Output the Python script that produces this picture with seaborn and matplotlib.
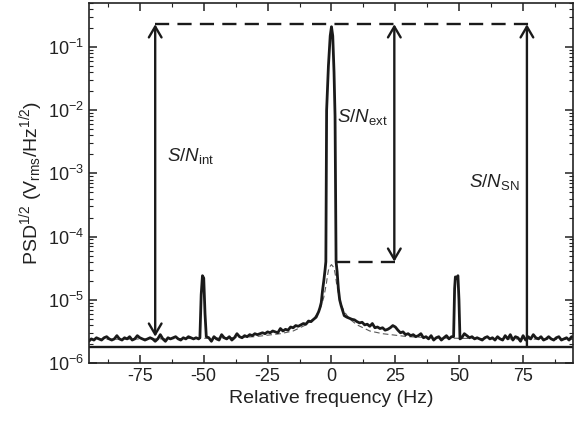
import numpy as np
import pandas as pd
import seaborn as sns
import matplotlib.pyplot as plt
from matplotlib.ticker import MultipleLocator, LogLocator, NullFormatter

# noise floor, left part (-95 .. -52 Hz, 1 Hz steps), units of 1e-6
noise_left = [2.2, 2.4, 2.3, 2.5, 2.4, 2.3, 2.5, 2.6, 2.4, 2.3, 2.4, 2.7, 2.4, 2.3,
              2.5, 2.4, 2.6, 2.3, 2.4, 2.7, 2.5, 2.4, 2.3, 2.4, 2.5, 2.4, 2.2, 2.4,
              2.8, 2.4, 2.2, 2.5, 2.4, 2.5, 2.6, 2.4, 2.3, 2.5, 2.4, 2.6, 2.5, 2.4,
              2.5, 2.4]
peak_m50_freq = [-51.5, -51.0, -50.5, -50.0, -49.5, -49.0]
peak_m50_val = [2.5, 12.0, 24.0, 22.0, 6.0, 2.6]
# -48 .. -6 Hz
noise_mid_left = [2.5, 2.2, 2.6, 2.4, 2.3, 2.8, 2.5, 2.4, 2.6, 2.3, 2.5, 2.9, 2.6, 2.5,
                  2.7, 2.6, 2.8, 2.7, 2.9, 2.8, 2.9, 3.0, 2.9, 3.1, 3.0, 3.2, 3.1, 3.0,
                  3.5, 3.2, 3.4, 3.3, 3.7, 3.6, 3.9, 3.8, 4.0, 4.2, 4.1, 4.6, 4.5, 4.9,
                  5.3]
carrier_freq = [-5.0, -4.5, -4.0, -3.5, -3.0, -2.5, -2.2, -1.9, -1.2, -0.5, 0.0,
                0.5, 1.0, 1.4, 1.8, 2.2, 2.7, 3.2, 3.8, 4.5, 5.0]
carrier_val = [6.5, 7.5, 9.0, 14.0, 20.0, 30.0, 40.0, 1.0e4, 5.0e4, 1.5e5, 2.1e5,
               1.5e5, 4.0e4, 8.0e3, 40.0, 28.0, 15.0, 10.0, 8.0, 6.5, 5.6]
# 6 .. 47 Hz
noise_mid_right = [5.3, 5.1, 4.9, 4.8, 4.5, 4.3, 4.4, 4.0, 4.1, 3.8, 4.2, 3.6, 3.7, 3.5,
                   3.6, 3.3, 3.4, 3.6, 3.9, 3.7, 3.3, 3.0, 3.1, 2.8, 2.9, 2.7, 2.8, 2.6,
                   2.7, 2.9, 2.5, 2.6, 2.4, 2.7, 2.3, 2.5, 2.6, 2.3, 2.5, 2.7, 2.4, 2.6]
peak_p50_freq = [47.8, 48.2, 48.5, 49.0, 49.5, 49.9, 50.3]
peak_p50_val = [2.6, 15.0, 23.0, 22.0, 24.0, 10.0, 2.4]
# 51 .. 95 Hz
noise_right = [2.5, 2.9, 2.7, 2.5, 2.6, 2.4, 2.5, 2.4, 2.3, 2.5, 2.6, 2.4, 2.5, 2.3,
               2.6, 2.4, 2.3, 2.7, 2.4, 2.8, 2.3, 2.6, 2.5, 2.2, 2.7, 2.3, 2.6, 2.4,
               2.8, 2.5, 2.4, 2.6, 2.3, 2.4, 2.6, 2.4, 2.3, 2.5, 2.6, 2.3, 2.4, 2.5,
               2.3, 2.6, 2.5]

# Lorentzian + floor fit (thin dashed), units of 1e-6
fit_freq = [-95, -70, -50, -40, -30, -20, -15, -10, -7, -5, -4, -3, -2, -1.5, -1, 0,
            1, 1.5, 2, 3, 4, 5, 7, 10, 15, 20, 30, 40, 50, 70, 95]
fit_val = [2.35, 2.4, 2.45, 2.5, 2.6, 2.9, 3.2, 4.0, 5.0, 6.5, 8.0, 11.0, 18.0, 25.0,
           32.0, 36.0, 32.0, 25.0, 18.0, 11.0, 8.0, 6.5, 5.0, 4.0, 3.2, 2.9, 2.6,
           2.5, 2.45, 2.4, 2.35]

shot_noise = 1.8e-6
signal_level = 0.23
ext_level = 4.0e-5
top_dash = [-69, 78]
ext_dash = [1.8, 25]
arrow_x = [-69, 24.6, 76.5]
arrow_bottom = [2.6e-6, 4.0e-5, 1.8e-6]
labels = [r"$S/N_{\rm int}$", r"$S/N_{\rm ext}$", r"$S/N_{\rm SN}$"]
label_pos = [(-64.5, 1.9e-3), (2.3, 7.8e-3), (54, 7.4e-4)]

freq = np.concatenate([
    -95 + np.arange(len(noise_left)), peak_m50_freq,
    -48 + np.arange(len(noise_mid_left)), carrier_freq,
    6 + np.arange(len(noise_mid_right)), peak_p50_freq,
    51 + np.arange(len(noise_right)),
])
psd = np.concatenate([noise_left, peak_m50_val, noise_mid_left, carrier_val,
                      noise_mid_right, peak_p50_val, noise_right]) * 1e-6
df = pd.DataFrame({"freq": freq, "psd": psd})
fit_df = pd.DataFrame({"freq": fit_freq, "psd": np.array(fit_val) * 1e-6})

sns.set_theme(style="ticks")
plt.rcParams["font.family"] = ["Liberation Sans", "DejaVu Sans"]
plt.rcParams["mathtext.fontset"] = "custom"
plt.rcParams["mathtext.rm"] = "Liberation Sans"
plt.rcParams["mathtext.it"] = "Liberation Sans:italic"
plt.rcParams["axes.unicode_minus"] = False

fig = plt.figure(figsize=(5.84, 4.21), dpi=100)
ax = fig.add_axes([0.152, 0.138, 0.829, 0.855])

sns.lineplot(data=fit_df, x="freq", y="psd", ax=ax, color="0.35", lw=0.8,
             linestyle=(0, (5, 3)), estimator=None)
sns.lineplot(data=df, x="freq", y="psd", ax=ax, color="#1a1a1a", lw=2.0,
             estimator=None)

ax.axhline(shot_noise, color="#1a1a1a", lw=1.7)
ax.plot(top_dash, [signal_level] * 2, color="#1a1a1a", lw=1.7, dashes=(6, 3.5))
ax.plot(ext_dash, [ext_level] * 2, color="#1a1a1a", lw=1.7, dashes=(6, 3.5))

styles = ["<->", "<->", "->"]
for x, yb, st in zip(arrow_x, arrow_bottom, styles):
    ax.annotate("", xy=(x, signal_level), xytext=(x, yb),
                arrowprops=dict(arrowstyle=st + ",head_length=0.65,head_width=0.38",
                                color="#1a1a1a", lw=1.7, shrinkA=0, shrinkB=0))
for lab, (x, y) in zip(labels, label_pos):
    ax.text(x, y, lab, fontsize=13.5, va="center", ha="left", color="#222222")

ax.set_yscale("log")
ax.set_xlim(-95, 94.5)
ax.set_ylim(1e-6, 0.5)
ax.xaxis.set_major_locator(MultipleLocator(25))
ax.xaxis.set_minor_locator(MultipleLocator(12.5))
ax.yaxis.set_major_locator(LogLocator(base=10, numticks=10))
ax.yaxis.set_minor_locator(LogLocator(base=10, subs=np.arange(2, 10), numticks=20))
ax.yaxis.set_minor_formatter(NullFormatter())
ax.tick_params(which="both", direction="in", top=True, right=True,
               colors="#222222", labelsize=13)
ax.tick_params(which="major", length=6, width=1.1)
ax.tick_params(which="minor", length=3, width=0.8)
for s in ax.spines.values():
    s.set_linewidth(1.2)
    s.set_color("#222222")

ax.set_xlabel("Relative frequency (Hz)", fontsize=14, color="#222222", labelpad=4)
ax.set_ylabel(r"PSD$^{1/2}$ (V$_{\rm rms}$/Hz$^{1/2}$)", fontsize=14,
              color="#222222", labelpad=2)

fig.savefig("out.png", dpi=100)
